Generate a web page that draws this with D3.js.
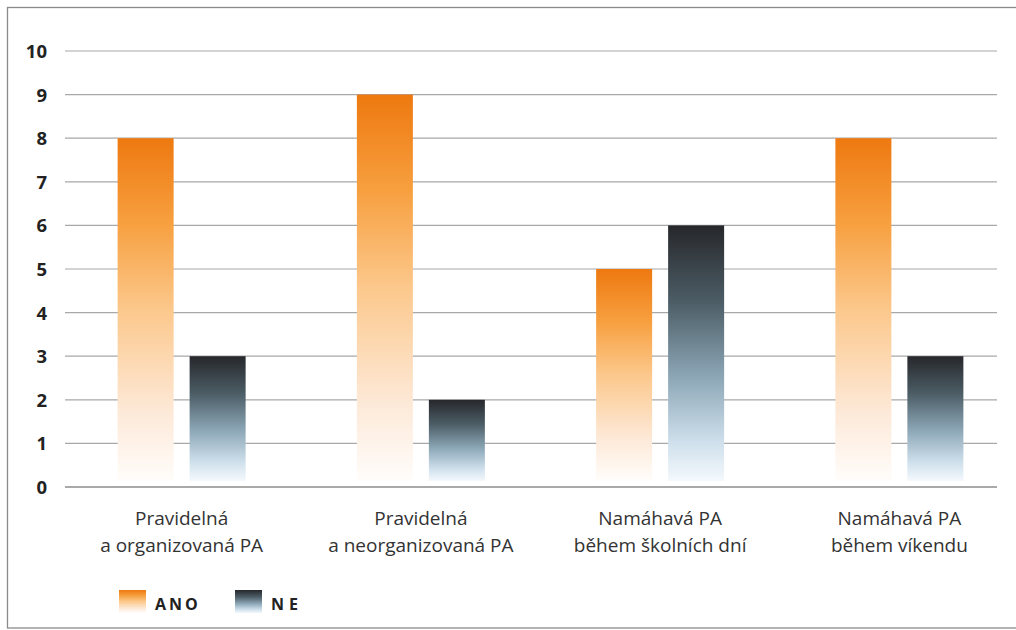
<!DOCTYPE html>
<html><head><meta charset="utf-8">
<script src="https://cdn.jsdelivr.net/npm/d3@7"></script>
<style>body{margin:0;background:#fff}svg{display:block}</style>
</head><body>
<script>
const categories = [["Pravidelná","a organizovaná PA"],["Pravidelná","a neorganizovaná PA"],["Namáhavá PA","během školních dní"],["Namáhavá PA","během víkendu"]];
const seriesNames = ["ANO","NE"];
const ano = [8, 9, 5, 8];
const ne = [3, 2, 6, 3];
const yTicks = [0,1,2,3,4,5,6,7,8,9,10];

const W = 1016, H = 630;
const svg = d3.select("body").append("svg").attr("width", W).attr("height", H);
const defs = svg.append("defs");
function grad(id, stops){
  const g = defs.append("linearGradient").attr("id", id).attr("x1",0).attr("y1",0).attr("x2",0).attr("y2",1);
  stops.forEach(s=>g.append("stop").attr("offset",s[0]).attr("stop-color",s[1]));
}
grad("gAno", [[0,"#ee7910"],[0.25,"#f7a040"],[0.5,"#fcc88c"],[0.8,"#fde9d8"],[1,"#fffdfb"]]);
grad("gNe", [[0,"#26272b"],[0.3,"#4c5d66"],[0.6,"#8ea8b8"],[0.85,"#cfe0ec"],[1,"#f4f9fd"]]);

svg.append("rect").attr("x",7.5).attr("y",7.5).attr("width",1020).attr("height",620.5)
  .attr("fill","none").attr("stroke","#8a8a8a").attr("stroke-width",1.3);

const y = d3.scaleLinear().domain([0,10]).range([487,51]);
const x0 = d3.scaleBand().domain(d3.range(categories.length)).range([62,1019]);
const x1 = d3.scaleBand().domain(seriesNames).range([-64,64]).paddingInner(0.222);

const gridG = svg.append("g");
gridG.selectAll("line").data(yTicks).join("line")
  .attr("x1",65).attr("x2",997).attr("y1",d=>y(d)).attr("y2",d=>y(d))
  .attr("stroke", d=>d===0?"#8c8c8c":"#a8a8a8").attr("stroke-width", d=>d===0?1.6:1.2);

const yAxis = d3.axisLeft(y).tickValues(yTicks).tickSize(0).tickPadding(0);
const ya = svg.append("g").attr("transform","translate(47,0)").call(yAxis);
ya.select(".domain").remove();
ya.selectAll("text").attr("font-family","'Open Sans', sans-serif").attr("font-size",18.5).attr("font-weight","bold").attr("fill","#222").attr("dy","0.35em");

const groups = svg.append("g").selectAll("g").data(categories).join("g")
  .attr("transform",(d,i)=>`translate(${x0(i)+x0.bandwidth()/2},0)`);
groups.each(function(d,i){
  const g = d3.select(this);
  const vals = [ano[i], ne[i]];
  seriesNames.forEach((s,k)=>{
    g.append("rect").attr("x",x1(s)).attr("width",x1.bandwidth())
      .attr("y",y(vals[k])).attr("height",y(0)-y(vals[k])-6)
      .attr("fill", k===0?"url(#gAno)":"url(#gNe)");
  });
  const t = g.append("text").attr("text-anchor","middle").attr("font-family","'Open Sans', sans-serif")
    .attr("font-size",19).attr("fill","#333");
  d.forEach((line,j)=>t.append("tspan").attr("x",0).attr("y",525+j*27).text(line));
});

const leg = svg.append("g");
const legX = [119, 235];
seriesNames.forEach((s,k)=>{
  leg.append("rect").attr("x",legX[k]).attr("y",590).attr("width",27).attr("height",23)
    .attr("fill", k===0?"url(#gAno)":"url(#gNe)");
  leg.append("text").attr("x",legX[k]+36).attr("y",610).attr("font-family","'Open Sans', sans-serif")
    .attr("font-size",16).attr("font-weight","bold").attr("letter-spacing", k===0?"3px":"5px").attr("fill","#222").text(s);
});
</script>
</body></html>
